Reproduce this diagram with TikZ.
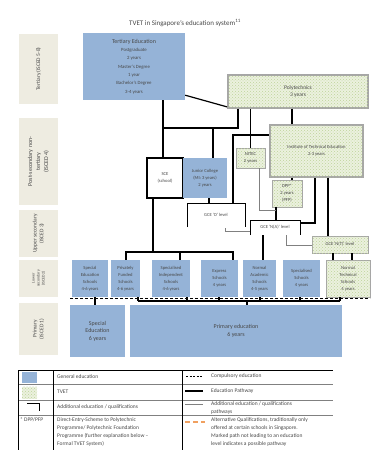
\documentclass[tikz,border=0pt]{standalone}
\usepackage{fontspec}
\setmainfont{Carlito}
\usetikzlibrary{patterns,calc}
\definecolor{geblue}{HTML}{95B3D7}
\definecolor{tvg}{HTML}{EBF1DE}
\definecolor{tvdot}{HTML}{BFD39A}
\definecolor{beige}{HTML}{EEECE1}
\definecolor{tx}{HTML}{484848}
\definecolor{bord}{HTML}{A6A6A6}
\definecolor{orng}{HTML}{F0A060}
\newcommand\mybox[7]{\node[#1, minimum width={(#5-#3)*1pt}, minimum height={(#6-#4)*1pt}] (#2) at ({(#3+#5)/2},{(#4+#6)/2}) {#7};}
\begin{document}
\begin{tikzpicture}[x=1pt,y=-1pt,
  txt/.style={font=\fontsize{4.6}{7}\selectfont, text=tx, align=center, inner sep=0pt},
  genbox/.style={txt, fill=geblue},
  tvbox/.style={txt, fill=tvg, postaction={pattern=crosshatch dots, pattern color=tvdot}, draw=bord, line width=0.6pt},
  tvthick/.style={tvbox, line width=1.8pt},
  whbox/.style={txt, fill=white, draw=black, line width=1.5pt},
  openbox/.style={txt},
  lvl/.style={fill=beige, font=\fontsize{5.5}{6.8}\selectfont, text=tx, align=center, rotate=90, minimum height=39pt, inner sep=0pt},
  ep/.style={line width=1.2pt},
  ap/.style={line width=0.5pt, draw=gray},
  brk/.style={line width=0.6pt},
  lgtxt/.style={font=\fontsize{5.5}{8}\selectfont, text=tx, align=left, inner sep=0pt},
]
\useasboundingbox[fill=white] (0,0) rectangle (371,450);
\node[font=\fontsize{7}{8}\selectfont, text=tx] (title) at (185,23) {TVET in Singapore's education system\textsuperscript{11}};

% level labels
\node[lvl, minimum width=70pt] (lt) at (38.5,69) {Tertiary (ISCED 5-8)};
\node[lvl, minimum width=87pt, font=\fontsize{6}{8}\selectfont] (lp) at (38.5,161.5) {Post-secondary non-\\tertiary\\(ISCED 4)};
\node[lvl, minimum width=47pt] (lu) at (38.5,233.5) {Upper secondary\\(ISCED 3)};
\node[lvl, minimum width=37pt, font=\fontsize{4}{5}\selectfont] (ll) at (38.5,278.5) {Lower\\secondary\\(ISCED 2)};
\node[lvl, minimum width=52pt] (lpr) at (38.5,329) {Primary\\(ISCED 1)};

% main boxes
\mybox{genbox, font=\fontsize{4.8}{8.3}\selectfont}{tert}{83}{33}{185}{100}{{\fontsize{6}{7}\selectfont Tertiary Education}\\Postgraduate\\2 years\\Master's Degree\\1 year\\Bachelor's Degree\\3-4 years}
\mybox{tvthick, font=\fontsize{5.5}{7.5}\selectfont}{poly}{228}{75}{368}{108}{Polytechnics\\3 years}
\mybox{tvthick}{ite}{270}{125}{363}{177}{Institute of Technical Education\\2-3 years}
\mybox{tvbox}{nitec}{236}{148}{265}{168}{NITEC\\2 years}
\mybox{tvbox}{dpp}{272}{180}{302}{207}{DPP*\\2 years\\(PFP)}
\mybox{whbox}{sce}{147}{158}{183}{198}{SCE\\(school)}
\mybox{genbox}{jc}{183}{158}{227}{198}{Junior College\\(MI: 3 years)\\2 years}
\mybox{openbox}{gceo}{187}{203}{245}{227}{GCE 'O' level}
\mybox{openbox}{gcena}{250}{220}{300}{235}{GCE 'N(A)' level}
\mybox{tvbox}{gcent}{312}{236}{368}{253}{GCE 'N(T)' level}
\draw[brk] (gceo.south west) |- (gceo.north east) -- (gceo.south east);
\draw[brk] (gcena.south west) |- (gcena.north east) -- (gcena.south east);

% lower secondary
\mybox{genbox}{s1}{72}{260}{108}{297}{Special\\Education\\Schools\\4-6 years}
\mybox{genbox}{s2}{111}{260}{140}{297}{Privately\\Funded\\Schools\\4-6 years}
\mybox{genbox}{s3}{152}{260}{190}{297}{Specialised\\Independent\\Schools\\4-6 years}
\mybox{genbox}{s4}{201}{260}{238}{297}{Express\\Schools\\4 years}
\mybox{genbox}{s5}{243}{260}{276}{297}{Normal\\Academic\\Schools\\4-5 years}
\mybox{genbox}{s6}{283}{260}{320}{297}{Specialised\\Schools\\4 years}
\mybox{tvbox}{s7}{326}{260}{370}{297}{Normal\\Technical\\Schools\\4 years}

% primary
\mybox{genbox, font=\fontsize{6}{7.5}\selectfont}{p1}{70}{305}{125}{357}{Special\\Education\\6 years}
\mybox{genbox, font=\fontsize{6}{7.5}\selectfont}{p2}{130}{305}{342}{357}{Primary education\\6 years}

% education pathways
\coordinate (j1) at (163,128); \coordinate (j2) at (238,128); \coordinate (j3) at (213,128);
\draw[ep] (tert.south -| j1) -- (sce.north -| j1);
\draw[ep] (j1) -- (j2) -- (poly.south -| j2);
\draw[ep] (j3) -- (jc.north -| j3);
\draw[ep] ($(tert.south east)+(0,-5)$) -- ($(poly.south west)+(0,-2)$);
\coordinate (j4) at (292,0);
\draw[ep] (poly.south -| j4) -- (ite.north -| j4);
\draw[ep] (ite.south -| j4) -- (dpp.north -| j4);
\coordinate (j5) at (233,135);
\draw[ep] (gceo.north -| j5) -- (j5) -- (ite.west |- j5);
\draw[ep] (nitec.north) -- (poly.south -| nitec.north);
\coordinate (j6) at (209,0);
\draw[ep] (jc.south -| j6) -- (gceo.north -| j6);
\coordinate (j7) at (153,252); \coordinate (j8) at (126,252); \coordinate (j9) at (233,252); \coordinate (j10) at (180,252);
\draw[ep] (sce.south -| j7) -- (j7);
\draw[ep] (s2.north -| j8) -- (j8) -- (j9) -- (s4.north -| j9);
\draw[ep] (j10) -- (s3.north -| j10);
\coordinate (j11) at (263,0);
\draw[ep] (s5.north -| j11) -- (gcena.south -| j11);
\coordinate (j12) at (276,0);
\draw[ep] (gcena.north -| j12) -- (dpp.south -| j12);
\coordinate (j13) at (315,223);
\draw[ep] (gcena.east |- j13) -- (j13) -- (ite.south -| j13);
\coordinate (j14) at (328,0);
\draw[ep] (gcent.north -| j14) -- (ite.south -| j14);
\coordinate (j15) at (333,0); \coordinate (j16) at (352,0);
\draw[ep] (s7.north -| j15) -- (gcent.south -| j15);
\draw[ep] (s7.north -| j16) -- (gcent.south -| j16);

% additional pathways
\coordinate (g1) at (225,231);
\draw[ap] ($(g1)+(0,-3)$) -- (g1) -- (gcena.west |- g1);
\coordinate (g2) at (286,245);
\draw[ap] (gcena.south -| g2) -- (g2) -- (gcent.west |- g2);
\coordinate (g3) at (259,210);
\draw[ap] (nitec.south -| g3) -- (g3) -- (j12 |- g3);

% primary links
\coordinate (k1) at (95,0);
\draw[ep] (p1.north -| k1) -- (s1.south -| k1);
\coordinate (k2) at (138,301); \coordinate (k3) at (340,301); \coordinate (k4) at (247,301);
\draw[ep] (k2) -- (k3);
\draw[ep] (p2.north -| k4) -- (k4);
\draw[ep] (k2) -- (s2.south -| k2);
\draw[ep] (k3) -- (s7.south -| k3);
\foreach \nm/\xx in {s3/187, s4/219, s5/260, s6/300} {
  \coordinate (tk) at (\xx,301);
  \draw[ep] (tk) -- (\nm.south -| tk);
}
% compulsory line
\coordinate (d1) at (70,298); \coordinate (d2) at (370,298);
\draw[line width=0.8pt, dash pattern=on 3pt off 2pt] (d1) -- (d2);

% legend
\coordinate (L1) at (18,370); \coordinate (L2) at (333,370);
\draw[line width=0.5pt] (L1) -- (L2);
\foreach \yy in {384,400,415} { \draw[line width=0.4pt, draw=gray] (18,\yy) -- (333,\yy); }
\foreach \xx in {18,53,182} { \draw[line width=0.5pt] (\xx,370) -- (\xx,450); }
\node[fill=geblue, minimum width=15pt, minimum height=11pt, inner sep=0pt] (lg1) at (29.5,377.5) {};
\node[fill=tvg, postaction={pattern=crosshatch dots, pattern color=tvdot}, minimum width=15pt, minimum height=12pt, inner sep=0pt] (lg2) at (29.5,392.5) {};
\coordinate (lb1) at (27,403.5); \coordinate (lb2) at (39,403.5); \coordinate (lb3) at (39,411);
\draw[brk] (lb1) -- (lb2) -- (lb3);
\node[lgtxt, anchor=west] (lt1) at (57,377) {General education};
\node[lgtxt, anchor=west] (lt2) at (57,392) {TVET};
\node[lgtxt, anchor=west] (lt3) at (57,407) {Additional education / qualifications};
\node[lgtxt, anchor=north west] (lt4a) at (20,417.5) {* DPP/PFP};
\node[lgtxt, anchor=north west] (lt4) at (57,417.5) {Direct-Entry-Scheme to Polytechnic\\Programme/ Polytechnic Foundation\\Programme (further explanation below --\\Formal TVET System)};
\coordinate (r1a) at (186,376); \coordinate (r1b) at (202,376);
\draw[line width=0.6pt, dash pattern=on 2pt off 1.5pt] (r1a) -- (r1b);
\coordinate (r2a) at (185,391); \coordinate (r2b) at (203,391);
\draw[line width=1.5pt] (r2a) -- (r2b);
\coordinate (r3a) at (185,404); \coordinate (r3b) at (203,404);
\draw[ap] (r3a) -- (r3b);
\coordinate (r4a) at (185,422); \coordinate (r4b) at (205,422);
\draw[line width=1.2pt, draw=orng, dash pattern=on 5pt off 3pt] (r4a) -- (r4b);
\node[lgtxt, anchor=west] (rt1) at (211,376) {Compulsory education};
\node[lgtxt, anchor=west] (rt2) at (211,391) {Education Pathway};
\node[lgtxt, anchor=north west] (rt3) at (211,401) {Additional education / qualifications\\pathways};
\node[lgtxt, anchor=north west] (rt4) at (211,417.5) {Alternative Qualifications, traditionally only\\offered at certain schools in Singapore.\\Marked path not leading to an education\\level indicates a possible pathway};
\end{tikzpicture}
\end{document}
